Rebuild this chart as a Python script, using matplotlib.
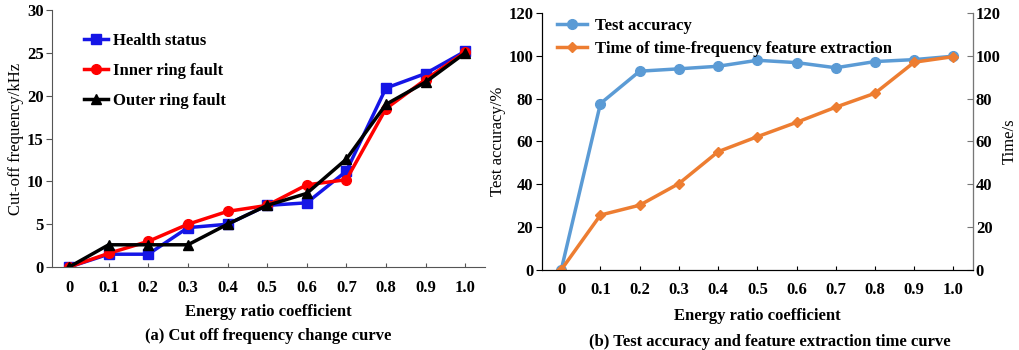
import numpy as np
import matplotlib
matplotlib.use('Agg')
import matplotlib.pyplot as plt

# ── Datos ──
ratio = [0, 0.1, 0.2, 0.3, 0.4, 0.5, 0.6, 0.7, 0.8, 0.9, 1.0]
tick_labels = ['0', '0.1', '0.2', '0.3', '0.4', '0.5', '0.6', '0.7', '0.8', '0.9', '1.0']

health = [0, 1.5, 1.5, 4.6, 5.0, 7.2, 7.5, 11.2, 20.9, 22.6, 25.2]
inner = [0, 1.6, 3.0, 5.0, 6.5, 7.2, 9.6, 10.2, 18.5, 21.9, 25.1]
outer = [0, 2.6, 2.6, 2.6, 5.0, 7.2, 8.6, 12.6, 19.0, 21.6, 25.0]

accuracy = [0, 77.7, 92.8, 93.9, 95.1, 97.9, 96.8, 94.4, 97.3, 98.2, 99.8]
time_s = [0, 25.6, 30.2, 40.3, 55.2, 62.2, 68.9, 76.0, 82.5, 97.0, 99.6]

plt.rcParams['font.family'] = ['Liberation Serif', 'DejaVu Serif']
plt.rcParams['font.weight'] = 'bold'
plt.rcParams['font.size'] = 12

fig = plt.figure(figsize=(10.2, 3.5), dpi=100)

# ── (a) ──
ax1 = fig.add_axes([0.051, 0.237, 0.4245, 0.734])
ax1.plot(ratio, health, color='#1515e6', lw=2.5, marker='s', ms=7, label='Health status')
ax1.plot(ratio, inner, color='#ff0000', lw=2.5, marker='o', ms=7, label='Inner ring fault')
ax1.plot(ratio, outer, color='black', lw=2.5, marker='^', ms=7, label='Outer ring fault')
ax1.set_xlim(-0.043, 1.05)
ax1.set_ylim(0, 30)
ax1.set_yticks([0, 5, 10, 15, 20, 25, 30])
ax1.set_xticks(ratio)
ax1.set_xticklabels(tick_labels)
for s in ['top', 'right']:
    ax1.spines[s].set_visible(False)
for s in ['left', 'bottom']:
    ax1.spines[s].set_color('#555555')
ax1.tick_params(axis='y', direction='out', length=4, color='#555555', labelsize=12, pad=2)
ax1.tick_params(axis='x', direction='in', length=3, color='#555555', labelsize=12, pad=9)
ax1.set_ylabel('Cut-off frequency/kHz', fontweight='normal', fontsize=12, labelpad=2)
ax1.set_xlabel('Energy ratio coefficient', fontweight='bold', fontsize=12, labelpad=6)
ax1.legend(loc='upper left', bbox_to_anchor=(0.04, 0.97), frameon=False,
           handlelength=1.4, handletextpad=0.3, labelspacing=0.85, fontsize=12)
fig.text(0.263, 0.03, '(a) Cut off frequency change curve', ha='center', fontsize=12)

# ── (b) ──
ax2 = fig.add_axes([0.531, 0.229, 0.423, 0.734])
l1, = ax2.plot(ratio, accuracy, color='#5b9bd5', lw=2.5, marker='o', ms=7, label='Test accuracy')
ax2.set_xlim(-0.05, 1.05)
ax2.set_ylim(0, 120)
ax2.set_yticks(np.arange(0, 121, 20))
ax2.set_xticks(ratio)
ax2.set_xticklabels(tick_labels)
ax2.spines['top'].set_visible(False)
ax2.tick_params(axis='y', direction='out', length=4, labelsize=12, pad=2)
ax2.tick_params(axis='x', direction='in', length=3, labelsize=12, pad=9)
ax2.set_ylabel('Test accuracy/%', fontweight='normal', fontsize=12, labelpad=2)
ax2.set_xlabel('Energy ratio coefficient', fontweight='bold', fontsize=12, labelpad=7)

ax3 = ax2.twinx()
l2, = ax3.plot(ratio, time_s, color='#ed7d31', lw=2.5, marker='D', ms=5.5,
               label='Time of time-frequency feature extraction')
ax3.set_ylim(0, 120)
ax3.set_yticks(np.arange(0, 121, 20))
ax3.spines['top'].set_visible(False)
ax3.spines['right'].set_color('#777777')
ax3.tick_params(axis='y', direction='in', length=4, color='#777777', labelsize=12, pad=2)
ax3.set_ylabel('Time/s', fontweight='normal', fontsize=12, labelpad=1)

ax2.legend(handles=[l1, l2], loc='upper left', bbox_to_anchor=(0.0, 1.04), frameon=False,
           handlelength=1.8, handletextpad=0.5, labelspacing=0.45, fontsize=12)
fig.text(0.755, 0.012, '(b) Test accuracy and feature extraction time curve', ha='center', fontsize=12)

fig.savefig('out.png', dpi=100)
